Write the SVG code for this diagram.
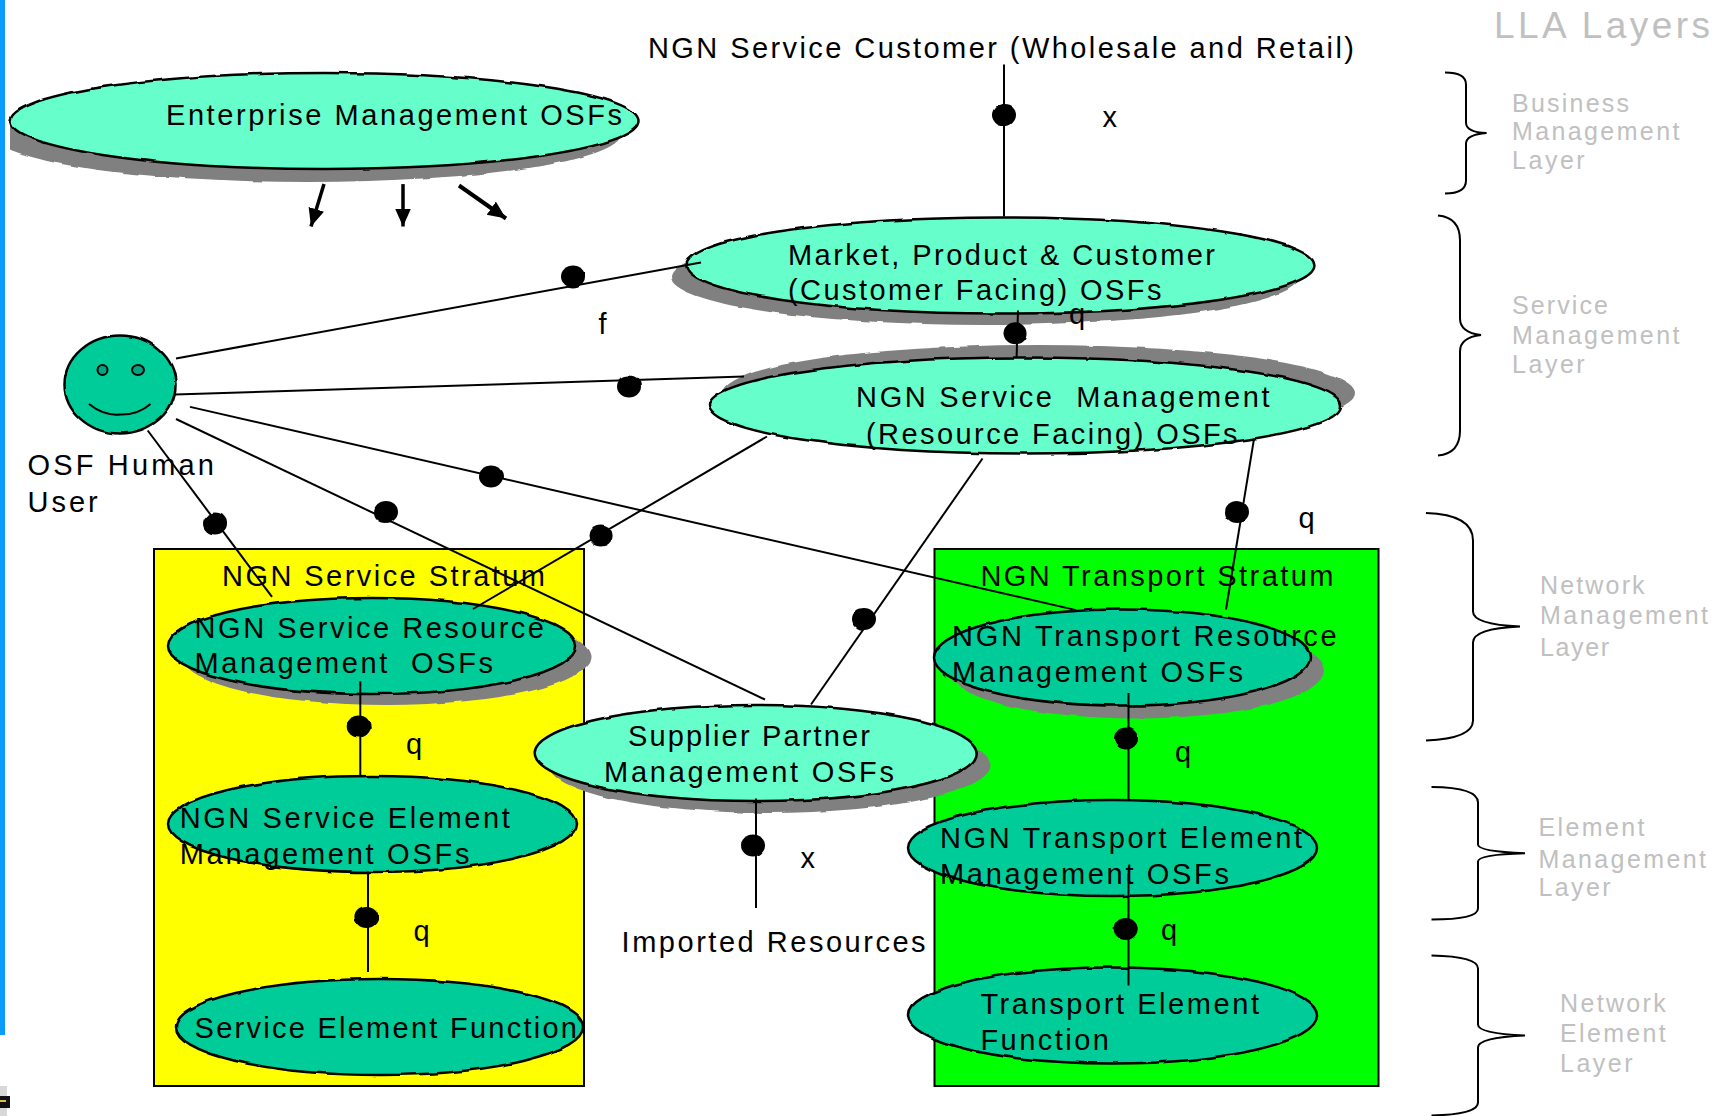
<svg xmlns="http://www.w3.org/2000/svg" width="1728" height="1116" viewBox="0 0 1728 1116">
<style>
text{font-family:"Liberation Sans",Arial,sans-serif;font-size:29px;fill:#000}
text.g{font-size:25px;fill:#c0c0c0}
text.t{font-size:37px;fill:#c0c0c0}
.shadow{fill:#808080;filter:url(#rough)}
.l{fill:#66ffcc;stroke:#000;stroke-width:2.5;filter:url(#rough)}
.d{fill:#00cc99;stroke:#000;stroke-width:2.5;filter:url(#rough)}
.c line{stroke:#000;stroke-width:2}
.c ellipse{fill:#000;filter:url(#rough)}
.a{stroke:#000;stroke-width:3.500;fill:none}
.b{stroke:#000;stroke-width:2;fill:none}
</style>
<defs>
<filter id="rough" x="-5%" y="-10%" width="110%" height="120%"><feTurbulence type="fractalNoise" baseFrequency="0.06" numOctaves="1" seed="4"/><feDisplacementMap in="SourceGraphic" scale="3.500" xChannelSelector="R" yChannelSelector="G"/></filter>
<marker id="ah" markerUnits="userSpaceOnUse" markerWidth="20" markerHeight="18" refX="18" refY="8" orient="auto"><path d="M0 0L18 8L0 16Z" fill="#000"/></marker>
<clipPath id="cl"><rect x="10" y="0" width="1718" height="1116"/></clipPath>
</defs>
<rect id="edge" x="0" y="0" width="5" height="1035" fill="#0a9bff"/>
<g id="corner"><rect x="0" y="1086" width="7" height="30" fill="#d8d8d8"/><rect x="0" y="1096" width="10" height="12" fill="#111"/><rect x="0" y="1100" width="6" height="2" fill="#d8c040"/></g>
<g id="stratum-service"><rect x="154" y="549" width="430" height="537" fill="#ff0" stroke="#000" stroke-width="2"/><text x="222" y="586" textLength="323">NGN Service Stratum</text></g>
<g id="stratum-transport"><rect x="934.500" y="549" width="444" height="537" fill="#0f0" stroke="#000" stroke-width="2"/><text x="980.400" y="586" textLength="353">NGN Transport Stratum</text></g>
<g id="enterprise"><ellipse class="shadow" cx="307" cy="134" rx="314" ry="48" clip-path="url(#cl)"/><ellipse class="l" cx="324.500" cy="121" rx="314" ry="48"/><text x="166" y="124.600" textLength="456">Enterprise Management OSFs</text></g>
<g id="market"><ellipse class="shadow" cx="985" cy="277" rx="314" ry="48"/><ellipse class="l" cx="1000.400" cy="265.500" rx="314" ry="48"/><text x="788" y="265" textLength="427">Market, Product &amp; Customer</text><text x="788" y="299.500" textLength="373.500">(Customer Facing) OSFs</text></g>
<g id="service-mgmt"><ellipse class="shadow" cx="1039" cy="393" rx="316" ry="48"/><ellipse class="l" cx="1025" cy="405.500" rx="316" ry="48"/><text x="856" y="406.500" textLength="413.600" xml:space="preserve">NGN Service  Management</text><text x="866" y="444" textLength="371.600">(Resource Facing) OSFs</text></g>
<g id="service-resource"><ellipse class="shadow" cx="386.500" cy="657" rx="204" ry="48"/><ellipse class="d" cx="372" cy="646" rx="204" ry="48"/><text x="194.600" y="638" textLength="349.400">NGN Service Resource</text><text x="194.600" y="672.600" textLength="298.400" xml:space="preserve">Management  OSFs</text></g>
<g id="service-element"><ellipse class="d" cx="372" cy="824" rx="204" ry="48"/><text x="179.700" y="827.700" textLength="330">NGN Service Element</text><text x="179.700" y="864.300" textLength="289.700">Management OSFs</text></g>
<g id="service-function"><ellipse class="d" cx="379.500" cy="1027" rx="203.500" ry="48"/><text x="194.600" y="1037.600" textLength="382.400">Service Element Function</text></g>
<g id="supplier"><ellipse class="shadow" cx="769.500" cy="765" rx="221" ry="48"/><ellipse class="l" cx="755.700" cy="753" rx="221" ry="48"/><text x="628" y="745.800" textLength="242">Supplier Partner</text><text x="604" y="782" textLength="290">Management OSFs</text></g>
<g id="transport-resource"><ellipse class="shadow" cx="1136" cy="670.500" rx="188" ry="48"/><ellipse class="d" cx="1122" cy="657.500" rx="188" ry="48"/><text x="952" y="645.500" textLength="384.700">NGN Transport Resource</text><text x="952" y="681.800" textLength="291">Management OSFs</text></g>
<g id="transport-element"><ellipse class="d" cx="1112.500" cy="848" rx="204.500" ry="48"/><text x="940" y="848" textLength="362">NGN Transport Element</text><text x="940" y="884" textLength="289">Management OSFs</text></g>
<g id="transport-function"><ellipse class="d" cx="1112.500" cy="1015.500" rx="204.500" ry="48"/><text x="980.400" y="1013.800" textLength="278.600">Transport Element</text><text x="980.400" y="1050.400" textLength="128.600">Function</text></g>
<g id="human"><ellipse class="d" cx="120" cy="384.500" rx="55.500" ry="49"/><ellipse cx="102.500" cy="370" rx="5" ry="5" fill="#00a583" stroke="#000" stroke-width="2"/><ellipse cx="138" cy="370" rx="6" ry="5" fill="#00a583" stroke="#000" stroke-width="2"/><path d="M89 404Q104 416 120 414.500Q138 415 150.500 404" fill="none" stroke="#000" stroke-width="2"/><text x="27.600" y="475" textLength="186.400">OSF Human</text><text x="27.600" y="511.700" textLength="70">User</text></g>
<g id="connectors" class="c" transform="translate(0 .5)">
<line x1="176" y1="358" x2="701" y2="262"/><ellipse cx="573" cy="276" rx="12" ry="11"/>
<line x1="175" y1="394" x2="744" y2="376"/><ellipse cx="629" cy="386" rx="12" ry="11"/>
<line x1="190" y1="406.400" x2="1076" y2="609.600"/><ellipse cx="491" cy="476" rx="12" ry="11"/>
<line x1="176" y1="418.500" x2="765" y2="699"/><ellipse cx="386" cy="511.400" rx="12" ry="11"/>
<line x1="147.700" y1="430" x2="272" y2="596.400"/><ellipse cx="215" cy="523" rx="12" ry="11"/>
<line x1="767" y1="436" x2="473" y2="608.500"/><ellipse cx="600.600" cy="535" rx="12" ry="11"/>
<line x1="982.500" y1="458" x2="811" y2="704"/><ellipse cx="864" cy="618.500" rx="12" ry="11"/>
<line x1="1254" y1="438.400" x2="1226" y2="609"/><ellipse cx="1237" cy="511.400" rx="12" ry="11"/>
<line x1="1004" y1="64" x2="1004" y2="216"/><ellipse cx="1004" cy="114.600" rx="12" ry="11"/>
<line x1="1018" y1="310" x2="1016.600" y2="357"/><ellipse cx="1015.500" cy="332.700" rx="12" ry="11"/>
<line x1="360.300" y1="680.800" x2="360.300" y2="775.800"/><ellipse cx="358.700" cy="726" rx="12" ry="11"/>
<line x1="368" y1="871" x2="368" y2="971.500"/><ellipse cx="366.400" cy="916.400" rx="12" ry="11"/>
<line x1="756" y1="798" x2="756" y2="907.500"/><ellipse cx="753" cy="845" rx="12" ry="11"/>
<line x1="1128.500" y1="692.500" x2="1128.500" y2="799"/><ellipse cx="1126" cy="738" rx="12" ry="11"/>
<line x1="1128.500" y1="873" x2="1128.500" y2="985"/><ellipse cx="1125.700" cy="928.500" rx="12" ry="11"/>
<path class="a" d="M324 183.600L311 226" marker-end="url(#ah)"/>
<path class="a" d="M403 183.600V226" marker-end="url(#ah)"/>
<path class="a" style="stroke-width:4" d="M459 185L506 218" marker-end="url(#ah)"/>
</g>
<g id="braces" transform="translate(0 .5)">
<path class="b" d="M1445 72Q1466 72 1466 84V122Q1466 132 1486.600 132.400Q1466 134 1466 143V180Q1466 193 1445 193"/>
<path class="b" d="M1438 215Q1460 217 1460 240V318Q1460 332 1481 334.500Q1460 337 1460 351V430Q1460 453 1438 455"/>
<path class="b" d="M1426 512.500Q1473 514 1473 540V611Q1473 624 1520 626Q1473 628 1473 642V720Q1473 738 1426 740"/>
<path class="b" d="M1431.500 786.500Q1478 787 1478 802V844Q1478 851 1525 852.700Q1478 854 1478 861V908Q1478 919 1431.500 919"/>
<path class="b" d="M1431.500 955Q1478 956 1478 968V1024Q1478 1033 1525 1035Q1478 1037 1478 1047V1102Q1478 1114 1431.500 1115"/>
</g>
<g id="labels">
<text x="648" y="58" textLength="706">NGN Service Customer (Wholesale and Retail)</text>
<text x="1102.600" y="127">x</text>
<text x="598.500" y="334">f</text>
<text x="1069" y="324">q</text>
<text x="1298.500" y="528">q</text>
<text x="406" y="754">q</text>
<text x="413.500" y="940.500">q</text>
<text x="800.500" y="868">x</text>
<text x="621.600" y="952" textLength="304">Imported Resources</text>
<text x="1175" y="762">q</text>
<text x="1161" y="940">q</text>
<text class="t" x="1494" y="38.400" textLength="216">LLA Layers</text>
<text class="g" x="1512" y="112" textLength="117">Business</text>
<text class="g" x="1512" y="139.500" textLength="167.400">Management</text>
<text class="g" x="1512" y="169" textLength="72.700">Layer</text>
<text class="g" x="1512" y="314" textLength="96">Service</text>
<text class="g" x="1512" y="344.400" textLength="167.400">Management</text>
<text class="g" x="1512" y="373" textLength="72.700">Layer</text>
<text class="g" x="1540" y="593.500" textLength="104.600">Network</text>
<text class="g" x="1540" y="624" textLength="168">Management</text>
<text class="g" x="1540" y="656" textLength="69">Layer</text>
<text class="g" x="1538.500" y="836" textLength="106">Element</text>
<text class="g" x="1538.500" y="868" textLength="167.500">Management</text>
<text class="g" x="1538.500" y="896" textLength="72">Layer</text>
<text class="g" x="1560" y="1011.700" textLength="105.700">Network</text>
<text class="g" x="1560" y="1042" textLength="105.700">Element</text>
<text class="g" x="1560" y="1071.500" textLength="72.600">Layer</text>
</g>
</svg>
